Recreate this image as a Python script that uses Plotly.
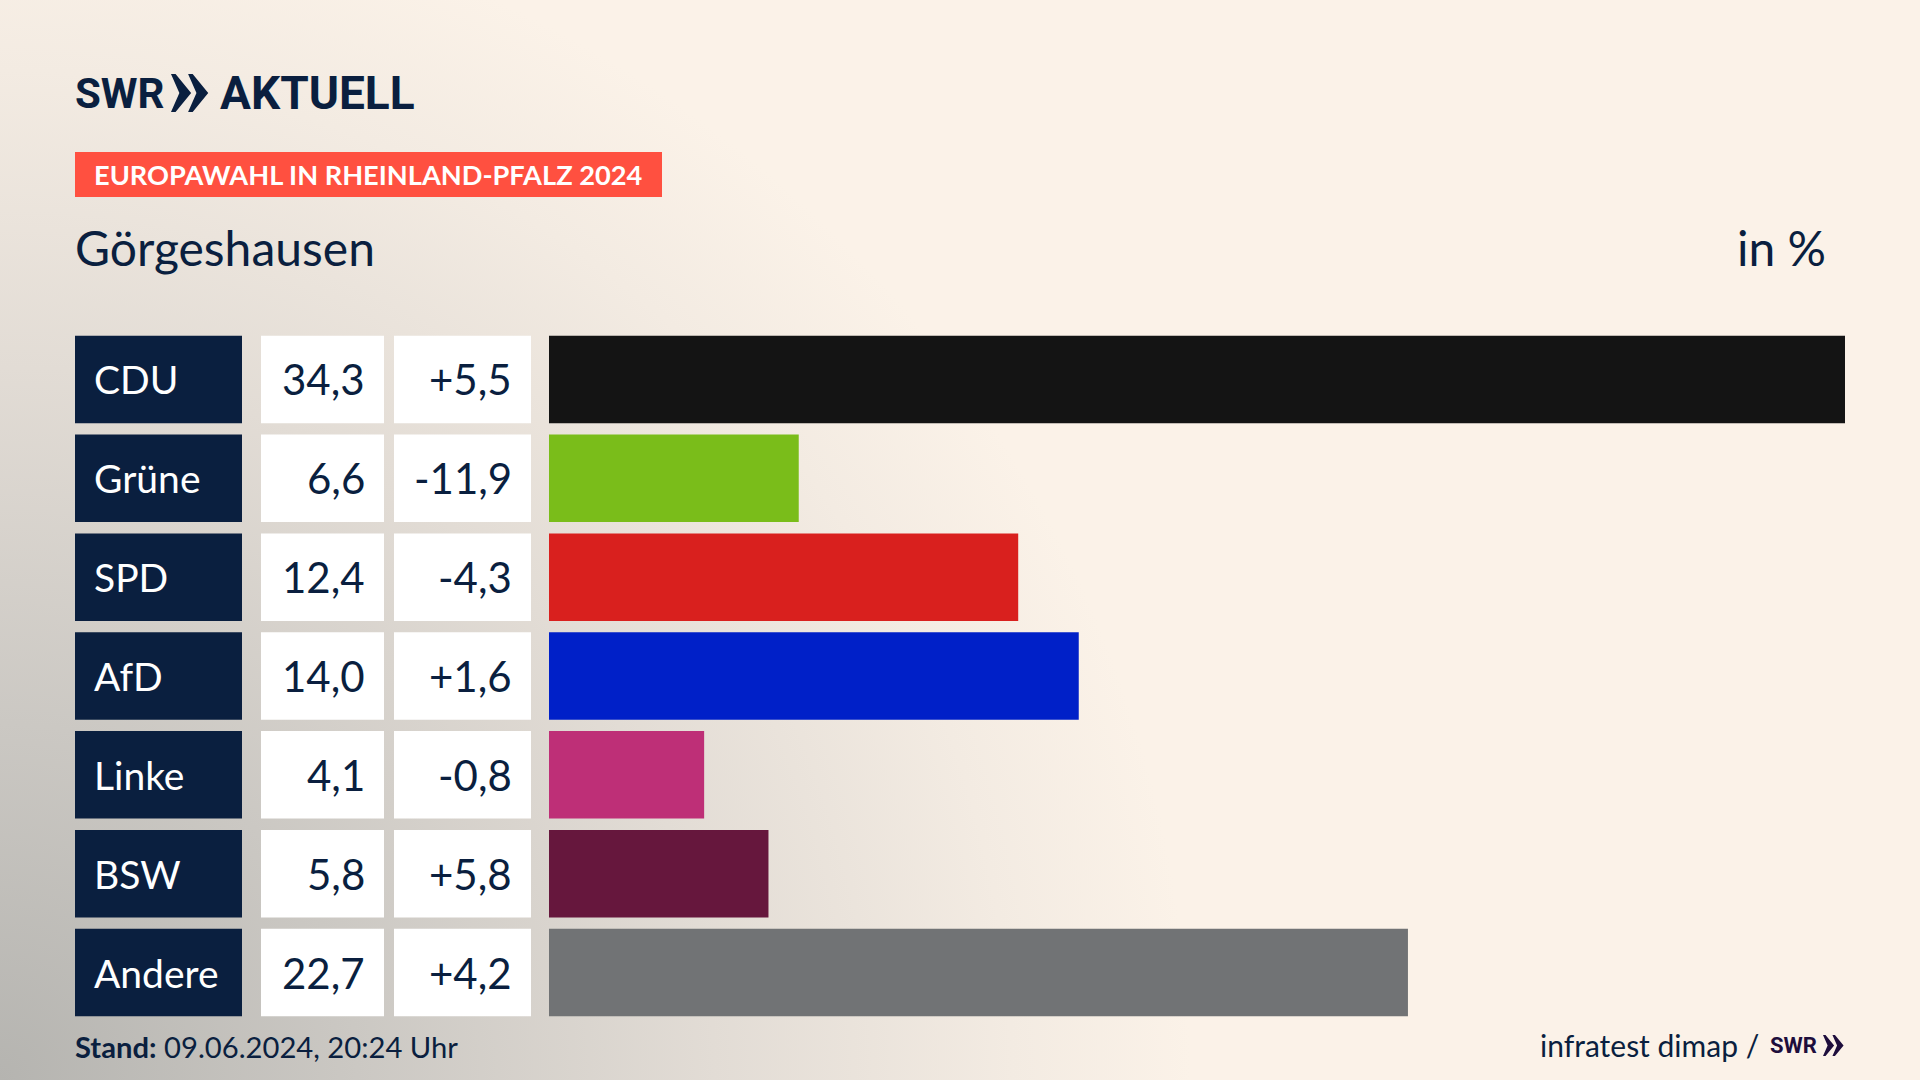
import plotly.graph_objects as go

parties = ['CDU', 'Grüne', 'SPD', 'AfD', 'Linke', 'BSW', 'Andere']
shares = [34.3, 6.6, 12.4, 14.0, 4.1, 5.8, 22.7]
changes = [5.5, -11.9, -4.3, 1.6, -0.8, 5.8, 4.2]
colors = ['#141414', '#7abd1a', '#d9201e', '#0020c8', '#be2f77', '#66173d', '#717375']

NAVY = '#0a1f3f'
FONT = 'Lato'
LOGO = 'Roboto'
W, H = 1920, 1080


def px(x):
    return x / W


def py(y):
    return 1 - y / H


def de(v, sign=False):
    s = f'{v:+.1f}' if sign else f'{v:.1f}'
    return s.replace('.', ',')


def label(x, y, text, size, color=NAVY, anchor='left', font=FONT):
    return dict(x=px(x), y=py(y), xref='paper', yref='paper', text=text, showarrow=False,
                xanchor=anchor, yanchor='middle', font=dict(family=font, size=size, color=color))


def chevrons(x0, y0, h, color):
    # the >> marks of the SWR logo
    out = []
    for dx in (0, h * 0.45):
        a = x0 + dx
        pts = [(a, y0), (a + h * 0.12, y0), (a + h * 0.53, y0 + h / 2), (a + h * 0.12, y0 + h), (a, y0 + h),
               (a + h * 0.22, y0 + h / 2)]
        d = 'M' + 'L'.join(f'{px(p):.5f},{py(q):.5f}' for p, q in pts) + 'Z'
        out.append(dict(type='path', path=d, xref='paper', yref='paper', fillcolor=color, line_width=0))
    return out


traces = []
# the three table columns are bars on their own x axes, sharing the y axis
for axis, col in (('x2', NAVY), ('x3', 'white'), ('x4', 'white')):
    traces.append(go.Bar(y=parties, x=[1] * len(parties), orientation='h', xaxis=axis, yaxis='y',
                         marker=dict(color=col, line_width=0), width=0.885, hoverinfo='skip'))
traces.append(go.Bar(y=parties, x=shares, orientation='h', xaxis='x', yaxis='y',
                     marker=dict(color=colors, line_width=0), width=0.885, hoverinfo='skip'))

annotations = [
    label(73, 93, '<b>SWR</b>', 42, font=LOGO),
    label(218, 93, '<b>AKTUELL</b>', 46, font=LOGO),
    label(92, 175, '<b>EUROPAWAHL IN RHEINLAND-PFALZ 2024</b>', 27.2, color='white'),
    label(73, 247, 'Görgeshausen', 48),
    label(1828, 247, 'in %', 48, anchor='right'),
    label(73, 1046, '<b>Stand:</b> 09.06.2024, 20:24 Uhr', 29.2),
    label(1761, 1045, 'infratest dimap /', 30, anchor='right'),
    label(1768, 1045, '<b>SWR</b>', 22, color='#1e0e3c', font=LOGO),
]

for i, p in enumerate(parties):
    annotations.append(dict(x=px(92), xref='paper', y=i, yref='y', text=p, showarrow=False, xanchor='left',
                            font=dict(family=FONT, size=39, color='white')))
    annotations.append(dict(x=px(367), xref='paper', y=i, yref='y', text=de(shares[i]), showarrow=False,
                            xanchor='right', font=dict(family=FONT, size=42, color=NAVY)))
    annotations.append(dict(x=px(514), xref='paper', y=i, yref='y', text=de(changes[i], True), showarrow=False,
                            xanchor='right', font=dict(family=FONT, size=42, color=NAVY)))

shapes = [dict(type='rect', xref='paper', yref='paper', x0=px(75), x1=px(662), y0=py(152), y1=py(197),
               fillcolor='#ff5040', line_width=0, layer='below')]
shapes += chevrons(171, 74, 38, NAVY)
shapes += chevrons(1823, 1035, 21, '#1e0e3c')

hidden = dict(visible=False, fixedrange=True)
fig = go.Figure(data=traces)
fig.update_layout(
    width=W, height=H, margin=dict(l=0, r=0, t=0, b=0, pad=0),
    paper_bgcolor='rgba(0,0,0,0)', plot_bgcolor='rgba(0,0,0,0)',
    showlegend=False, barmode='overlay',
    xaxis=dict(domain=[px(549), px(1845)], range=[0, 34.25], anchor='y', **hidden),
    xaxis2=dict(domain=[px(75), px(242)], range=[0, 1], anchor='y', **hidden),
    xaxis3=dict(domain=[px(261), px(384)], range=[0, 1], anchor='y', **hidden),
    xaxis4=dict(domain=[px(394), px(531)], range=[0, 1], anchor='y', **hidden),
    yaxis=dict(domain=[py(1022), py(330)], type='category', categoryorder='array', categoryarray=parties,
               range=[6.5, -0.5], anchor='x', **hidden),
    annotations=annotations, shapes=shapes,
)

page = ("document.body.style.margin='0';document.body.style.overflow='hidden';"
        "document.body.style.background='radial-gradient(ellipse 62% 110% at 0% 100%,"
        "#b5b4b0 0%,#cbc8c3 30%,#e2dcd5 60%,#f3ebe2 85%,#fbf2e8 100%) #fbf2e8';")
fig.write_html('out.html', post_script=page, config=dict(displayModeBar=False))
